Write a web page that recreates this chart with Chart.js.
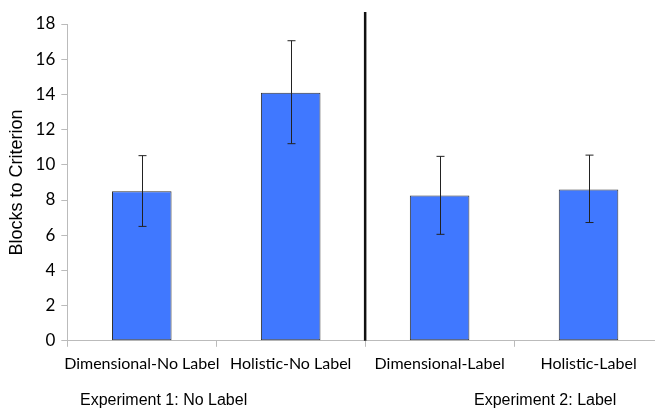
<!DOCTYPE html>
<html>
<head>
<meta charset="utf-8">
<script src="https://cdn.jsdelivr.net/npm/chart.js@4"></script>
<style>
  html, body { margin: 0; padding: 0; background: #fff; overflow: hidden; }
  #wrap { position: absolute; left: 0; top: 0; width: 663px; height: 411px; }
</style>
</head>
<body>
<div id="wrap"><canvas id="myChart"></canvas></div>
<script>
// conditions on the x axis
const conditions = ['Dimensional-No Label', 'Holistic-No Label', 'Dimensional-Label', 'Holistic-Label'];
// mean blocks to criterion
const means = [8.5, 14.1, 8.25, 8.6];
// error bar ends (upper / lower)
const errHigh = [10.52, 17.05, 10.48, 10.55];
const errLow = [6.5, 11.2, 6.05, 6.72];
const yTicks = [0, 2, 4, 6, 8, 10, 12, 14, 16, 18];
const groupLabels = ['Experiment 1: No Label', 'Experiment 2: Label'];

// draws error bars, the experiment divider and the group captions
const extras = {
    id: 'extras',
    afterDatasetsDraw(chart) {
        const c = chart.ctx;
        const x = chart.scales.x, y = chart.scales.y;
        c.save();
        c.strokeStyle = '#222';
        c.lineWidth = 1;
        means.forEach((m, i) => {
            const px = Math.round(x.getPixelForValue(i)) + 0.5;
            const top = y.getPixelForValue(errHigh[i]);
            const bot = y.getPixelForValue(errLow[i]);
            c.beginPath();
            c.moveTo(px, top); c.lineTo(px, bot);
            c.moveTo(px - 4, top); c.lineTo(px + 4, top);
            c.moveTo(px - 4, bot); c.lineTo(px + 4, bot);
            c.stroke();
        });
        // divider between the two experiments
        const dx = (x.getPixelForValue(1) + x.getPixelForValue(2)) / 2;
        c.strokeStyle = '#111';
        c.lineWidth = 2.5;
        c.beginPath();
        c.moveTo(dx, 12);
        c.lineTo(dx, chart.chartArea.bottom);
        c.stroke();
        // group captions
        c.fillStyle = '#000';
        c.font = '16px "Liberation Sans", Arial, sans-serif';
        c.textBaseline = 'middle';
        c.textAlign = 'left';
        c.fillText(groupLabels[0], 80, 401);
        c.fillText(groupLabels[1], 474, 401);
        c.restore();
    }
};

const ctx = document.getElementById('myChart');
const myChart = new Chart(ctx, {
    type: 'bar',
    data: {
        labels: conditions,
        datasets: [{
            data: means,
            backgroundColor: '#4078ff',
            borderColor: '#333',
            borderWidth: 1,
            borderSkipped: false,
            barPercentage: 0.4,
            categoryPercentage: 1.0
        }]
    },
    options: {
        responsive: true,
        maintainAspectRatio: false,
        animation: false,
        layout: { padding: { top: 24, bottom: 31, left: 6, right: 0 } },
        plugins: {
            legend: { display: false },
            tooltip: { enabled: false }
        },
        scales: {
            x: {
                grid: { drawOnChartArea: false, drawTicks: true, tickLength: 6, color: '#bbb', offset: true },
                border: { color: '#bbb' },
                ticks: {
                    color: '#000',
                    padding: 7,
                    maxRotation: 0,
                    autoSkip: false,
                    font: { family: 'Lato, "Open Sans", sans-serif', size: 16 }
                }
            },
            y: {
                min: 0,
                max: 18,
                afterBuildTicks(axis) { axis.ticks = yTicks.map(v => ({ value: v })); },
                grid: { drawOnChartArea: false, drawTicks: true, tickLength: 6, color: '#bbb' },
                border: { color: '#bbb' },
                ticks: {
                    color: '#000',
                    padding: 6,
                    font: { family: 'Lato, "Open Sans", sans-serif', size: 17 }
                },
                title: {
                    display: true,
                    text: 'Blocks to Criterion',
                    color: '#000',
                    padding: { top: 0, bottom: 2 },
                    font: { family: '"Liberation Sans", Arial, sans-serif', size: 18 }
                }
            }
        }
    },
    plugins: [extras]
});
</script>
</body>
</html>
